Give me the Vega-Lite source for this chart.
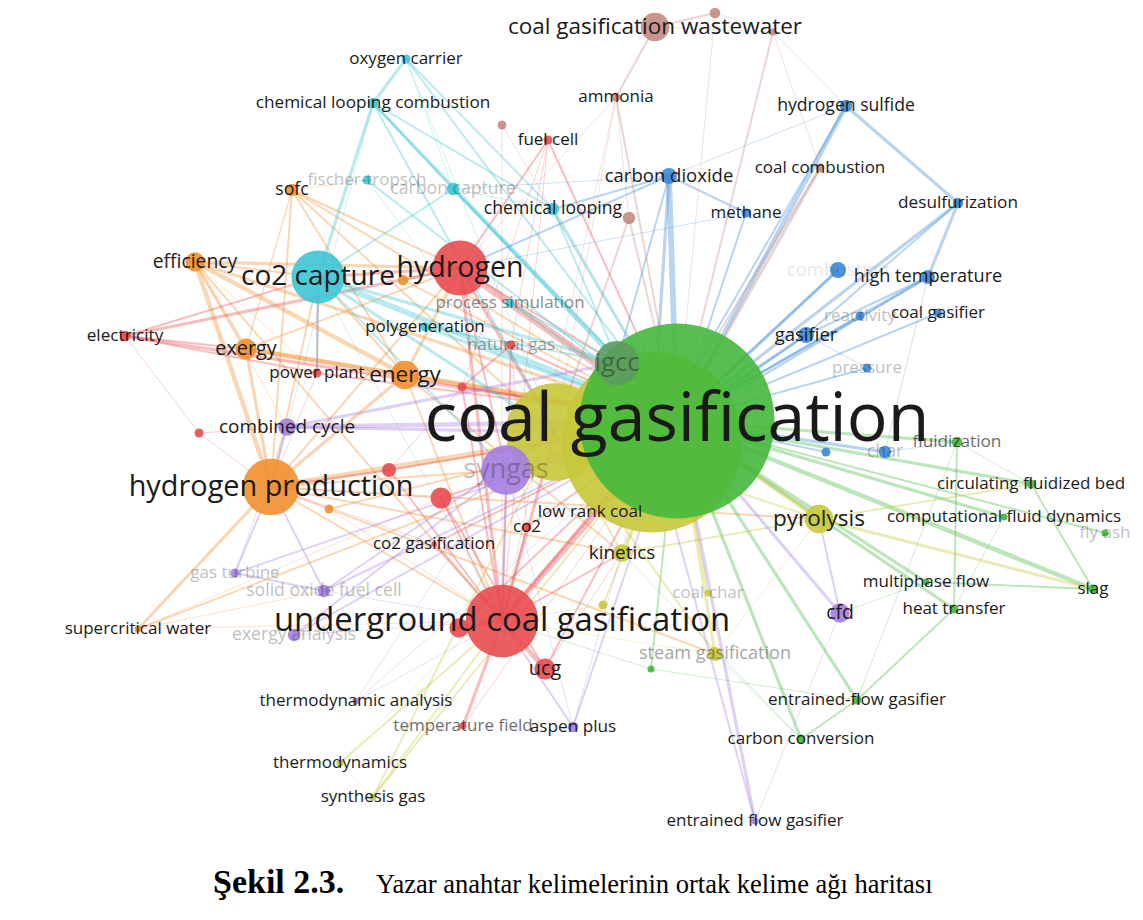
{
"$schema":"https://vega.github.io/schema/vega-lite/v6.json",
"width":1143,"height":920,"autosize":{"type":"fit","contains":"padding"},"padding":0,"background":"white",
"config":{"view":{"stroke":null}},
"datasets":{
"nodes":[
{"id":"y2","label":"","x":652,"y":442,"occ":1040,"cluster":"yellow","vis":"full"},
{"id":"y1","label":"","x":555,"y":432,"occ":302,"cluster":"yellow","vis":"full"},
{"id":"cg","label":"coal gasification","x":677,"y":421,"occ":1210,"cluster":"green","vis":"full"},
{"id":"igcc","label":"igcc","x":617,"y":363,"occ":62,"cluster":"igcc","vis":"dim2"},
{"id":"syngas","label":"syngas","x":506,"y":470,"occ":78,"cluster":"purple","vis":"dim"},
{"id":"hyd","label":"hydrogen","x":460,"y":268,"occ":96,"cluster":"red","vis":"full"},
{"id":"co2cap","label":"co2 capture","x":318,"y":277,"occ":90,"cluster":"cyan","vis":"full"},
{"id":"hprod","label":"hydrogen production","x":271,"y":487,"occ":102,"cluster":"orange","vis":"full"},
{"id":"r5","label":"","x":459,"y":628,"occ":12,"cluster":"red","vis":"full"},
{"id":"ucgf","label":"underground coal gasification","x":502,"y":621,"occ":168,"cluster":"red","vis":"full"},
{"id":"ucg","label":"ucg","x":545,"y":669,"occ":14,"cluster":"red","vis":"full"},
{"id":"pyro","label":"pyrolysis","x":819,"y":519,"occ":26,"cluster":"yellow","vis":"full"},
{"id":"kin","label":"kinetics","x":622,"y":553,"occ":10,"cluster":"yellow","vis":"full"},
{"id":"energy","label":"energy","x":405,"y":375,"occ":26,"cluster":"orange","vis":"full"},
{"id":"exergy","label":"exergy","x":246,"y":349,"occ":14,"cluster":"orange","vis":"full"},
{"id":"eff","label":"efficiency","x":195,"y":262,"occ":12,"cluster":"orange","vis":"full"},
{"id":"elec","label":"electricity","x":125,"y":336,"occ":3.6,"cluster":"red","vis":"full"},
{"id":"sofc","label":"sofc","x":292,"y":190,"occ":4.9,"cluster":"orange","vis":"full"},
{"id":"ccyc","label":"combined cycle","x":287,"y":427,"occ":10,"cluster":"purple","vis":"full"},
{"id":"cfd","label":"cfd","x":840,"y":613,"occ":12,"cluster":"purple","vis":"full"},
{"id":"aspen","label":"aspen plus","x":573,"y":727,"occ":3.6,"cluster":"purple","vis":"full"},
{"id":"ww","label":"coal gasification wastewater","x":655,"y":27,"occ":26,"cluster":"brown","vis":"full"},
{"id":"b1","label":"","x":715,"y":13,"occ":3.6,"cluster":"brown","vis":"full"},
{"id":"b2","label":"","x":773,"y":32,"occ":1.6,"cluster":"brown","vis":"full"},
{"id":"amm","label":"ammonia","x":616,"y":97,"occ":2.5,"cluster":"brown","vis":"full"},
{"id":"b3","label":"","x":502,"y":125,"occ":2.5,"cluster":"brown","vis":"full"},
{"id":"fuel","label":"fuel cell","x":548,"y":140,"occ":2.5,"cluster":"red","vis":"full"},
{"id":"oxy","label":"oxygen carrier","x":406,"y":59,"occ":2.5,"cluster":"cyan","vis":"full"},
{"id":"clc","label":"chemical looping combustion","x":373,"y":103,"occ":3.6,"cluster":"cyan","vis":"full"},
{"id":"ft","label":"fischer-tropsch","x":367,"y":180,"occ":2.5,"cluster":"cyan","vis":"dim"},
{"id":"ccap","label":"carbon capture","x":453,"y":189,"occ":4.9,"cluster":"cyan","vis":"dim"},
{"id":"cl","label":"chemical looping","x":553,"y":209,"occ":4.9,"cluster":"cyan","vis":"full"},
{"id":"b4","label":"","x":629,"y":218,"occ":4.9,"cluster":"brown","vis":"full"},
{"id":"cdiox","label":"carbon dioxide","x":669,"y":176,"occ":8.1,"cluster":"blue","vis":"full"},
{"id":"meth","label":"methane","x":746,"y":213,"occ":2.5,"cluster":"blue","vis":"full"},
{"id":"ccomb","label":"coal combustion","x":820,"y":168,"occ":2.5,"cluster":"brown","vis":"full"},
{"id":"h2s","label":"hydrogen sulfide","x":846,"y":106,"occ":4.9,"cluster":"blue","vis":"full"},
{"id":"desulf","label":"desulfurization","x":958,"y":203,"occ":3.6,"cluster":"blue","vis":"full"},
{"id":"o1","label":"","x":403,"y":280,"occ":3.6,"cluster":"orange","vis":"full"},
{"id":"procsim","label":"process simulation","x":510,"y":303,"occ":2.5,"cluster":"cyan","vis":"dim3"},
{"id":"poly","label":"polygeneration","x":425,"y":327,"occ":2.5,"cluster":"cyan","vis":"full"},
{"id":"natgas","label":"natural gas","x":511,"y":345,"occ":2.5,"cluster":"red","vis":"dim2"},
{"id":"pplant","label":"power plant","x":317,"y":373,"occ":2.5,"cluster":"red","vis":"full"},
{"id":"r1","label":"","x":462,"y":387,"occ":2.5,"cluster":"red","vis":"full"},
{"id":"r2","label":"","x":199,"y":433,"occ":2.5,"cluster":"red","vis":"full"},
{"id":"r3","label":"","x":389,"y":470,"occ":6.4,"cluster":"red","vis":"full"},
{"id":"r4","label":"","x":441,"y":498,"occ":14,"cluster":"red","vis":"full"},
{"id":"o2","label":"","x":329,"y":509,"occ":2.5,"cluster":"orange","vis":"full"},
{"id":"co2","label":"co2","x":527,"y":527,"occ":2.5,"cluster":"red","vis":"full"},
{"id":"lrc","label":"low rank coal","x":590,"y":512,"occ":0.9,"cluster":"yellow","vis":"full"},
{"id":"co2g","label":"co2 gasification","x":434,"y":544,"occ":0.9,"cluster":"red","vis":"full"},
{"id":"ycc","label":"coal char","x":708,"y":593,"occ":1.6,"cluster":"yellow","vis":"dim"},
{"id":"y3","label":"","x":603,"y":605,"occ":2.5,"cluster":"yellow","vis":"full"},
{"id":"steam","label":"steam gasification","x":715,"y":654,"occ":6.4,"cluster":"yellow","vis":"dim2"},
{"id":"g1","label":"","x":651,"y":669,"occ":1.6,"cluster":"green","vis":"full"},
{"id":"multi","label":"multiphase flow","x":926,"y":582,"occ":1.6,"cluster":"green","vis":"full"},
{"id":"heat","label":"heat transfer","x":954,"y":609,"occ":2.5,"cluster":"green","vis":"full"},
{"id":"slag","label":"slag","x":1093,"y":589,"occ":2.5,"cluster":"green","vis":"full"},
{"id":"fly","label":"fly ash","x":1105,"y":533,"occ":1.6,"cluster":"green","vis":"dim"},
{"id":"cfdyn","label":"computational fluid dynamics","x":1004,"y":517,"occ":1.6,"cluster":"green","vis":"full"},
{"id":"cfb","label":"circulating fluidized bed","x":1031,"y":484,"occ":2.5,"cluster":"green","vis":"full"},
{"id":"fluid","label":"fluidization","x":957,"y":442,"occ":3.6,"cluster":"green","vis":"mid"},
{"id":"char","label":"char","x":885,"y":452,"occ":4.9,"cluster":"blue","vis":"dim"},
{"id":"bb1","label":"","x":826,"y":452,"occ":2.5,"cluster":"blue","vis":"full"},
{"id":"press","label":"pressure","x":867,"y":368,"occ":2.5,"cluster":"blue","vis":"dim"},
{"id":"gasifier","label":"gasifier","x":806,"y":335,"occ":8.1,"cluster":"blue","vis":"full"},
{"id":"react","label":"reactivity","x":860,"y":316,"occ":2.5,"cluster":"blue","vis":"dim"},
{"id":"cgasifier","label":"coal gasifier","x":938,"y":313,"occ":2.5,"cluster":"blue","vis":"full"},
{"id":"hightemp","label":"high temperature","x":928,"y":277,"occ":6.4,"cluster":"blue","vis":"full"},
{"id":"bb2","label":"combustion","x":838,"y":270,"occ":8.1,"cluster":"blue","vis":"faint"},
{"id":"efg","label":"entrained-flow gasifier","x":857,"y":700,"occ":2.5,"cluster":"green","vis":"full"},
{"id":"cconv","label":"carbon conversion","x":801,"y":739,"occ":2.5,"cluster":"green","vis":"full"},
{"id":"efg2","label":"entrained flow gasifier","x":755,"y":821,"occ":1.6,"cluster":"purple","vis":"full"},
{"id":"tfield","label":"temperature field","x":463,"y":726,"occ":1.6,"cluster":"red","vis":"mid"},
{"id":"tdana","label":"thermodynamic analysis","x":356,"y":701,"occ":1.6,"cluster":"purple","vis":"full"},
{"id":"tdyn","label":"thermodynamics","x":340,"y":763,"occ":1.6,"cluster":"yellow","vis":"full"},
{"id":"synth","label":"synthesis gas","x":373,"y":797,"occ":1.6,"cluster":"yellow","vis":"full"},
{"id":"scw","label":"supercritical water","x":138,"y":629,"occ":1.6,"cluster":"orange","vis":"full"},
{"id":"gturb","label":"gas turbine","x":235,"y":573,"occ":2.5,"cluster":"purple","vis":"dim"},
{"id":"sofc2","label":"solid oxide fuel cell","x":324,"y":591,"occ":4.9,"cluster":"purple","vis":"dim"},
{"id":"exana","label":"exergy analysis","x":294,"y":635,"occ":4.9,"cluster":"purple","vis":"dim"}
],
"links":[
{"s":"eff","t":"hprod","w":4},{"s":"eff","t":"energy","w":4},{"s":"eff","t":"cg","w":3},{"s":"eff","t":"exergy","w":3},{"s":"eff","t":"co2cap","w":2},{"s":"eff","t":"hyd","w":3},{"s":"eff","t":"ucgf","w":2},{"s":"eff","t":"ccyc","w":1},{"s":"eff","t":"pplant","w":1},
{"s":"exergy","t":"hprod","w":3},{"s":"exergy","t":"energy","w":4},{"s":"exergy","t":"cg","w":4},{"s":"exergy","t":"hyd","w":2},{"s":"exergy","t":"sofc","w":1},
{"s":"energy","t":"cg","w":5},{"s":"energy","t":"hprod","w":3},{"s":"energy","t":"hyd","w":3},{"s":"energy","t":"co2cap","w":2},{"s":"energy","t":"ucgf","w":2},{"s":"energy","t":"kin","w":2},
{"s":"hprod","t":"cg","w":5},{"s":"hprod","t":"co2cap","w":2},{"s":"hprod","t":"scw","w":3},{"s":"hprod","t":"syngas","w":2},{"s":"hprod","t":"hyd","w":2},{"s":"hprod","t":"ucgf","w":2},{"s":"hprod","t":"kin","w":2},{"s":"hprod","t":"steam","w":2},{"s":"hprod","t":"pyro","w":2},
{"s":"scw","t":"cg","w":2},{"s":"scw","t":"ucgf","w":1},{"s":"scw","t":"r4","w":1},{"s":"scw","t":"sofc2","w":1},
{"s":"sofc","t":"hprod","w":2},{"s":"sofc","t":"energy","w":2},{"s":"sofc","t":"cg","w":2},{"s":"sofc","t":"hyd","w":2},{"s":"sofc","t":"exergy","w":1},{"s":"sofc","t":"ft","w":1},{"s":"sofc","t":"y1","w":2},
{"s":"o1","t":"cg","w":2},{"s":"o1","t":"hyd","w":2},{"s":"o2","t":"cg","w":2},{"s":"o2","t":"ucgf","w":1},
{"s":"hyd","t":"cg","w":6},{"s":"hyd","t":"ucgf","w":3},{"s":"hyd","t":"co2cap","w":3},{"s":"hyd","t":"elec","w":3},{"s":"hyd","t":"syngas","w":2},{"s":"hyd","t":"y1","w":3},{"s":"hyd","t":"fuel","w":2},{"s":"hyd","t":"igcc","w":2},
{"s":"elec","t":"cg","w":3},{"s":"elec","t":"pplant","w":2},{"s":"elec","t":"exergy","w":2},{"s":"elec","t":"r2","w":1},{"s":"elec","t":"co2cap","w":2},
{"s":"fuel","t":"cg","w":2},{"s":"fuel","t":"ucgf","w":1},{"s":"fuel","t":"r1","w":1},{"s":"fuel","t":"natgas","w":1},
{"s":"ucgf","t":"cg","w":5},{"s":"ucgf","t":"ucg","w":4},{"s":"ucgf","t":"tfield","w":3},{"s":"ucgf","t":"co2","w":2},{"s":"ucgf","t":"r4","w":2},{"s":"ucgf","t":"r3","w":2},{"s":"ucgf","t":"r5","w":3},{"s":"ucgf","t":"y1","w":3},{"s":"ucgf","t":"kin","w":2},{"s":"ucgf","t":"natgas","w":2},{"s":"ucgf","t":"r1","w":2},{"s":"ucgf","t":"co2g","w":2},{"s":"ucgf","t":"y2","w":3},
{"s":"ucg","t":"cg","w":2},{"s":"ucg","t":"kin","w":1},{"s":"ucg","t":"r4","w":2},
{"s":"pplant","t":"cg","w":2},{"s":"pplant","t":"co2cap","w":2},{"s":"pplant","t":"hprod","w":1},
{"s":"natgas","t":"cg","w":2},{"s":"natgas","t":"r1","w":2},{"s":"natgas","t":"co2","w":1},
{"s":"r1","t":"cg","w":2},{"s":"r1","t":"r3","w":1},{"s":"r2","t":"hprod","w":1},{"s":"r2","t":"ccyc","w":1},
{"s":"r3","t":"cg","w":2},{"s":"r3","t":"hprod","w":2},{"s":"r4","t":"cg","w":2},{"s":"r4","t":"hprod","w":1},{"s":"co2","t":"cg","w":2},{"s":"co2g","t":"cg","w":2},{"s":"r5","t":"cg","w":2},{"s":"tfield","t":"cg","w":1},{"s":"co2g","t":"hprod","w":1},
{"s":"co2cap","t":"cg","w":5},{"s":"co2cap","t":"igcc","w":3},{"s":"co2cap","t":"y1","w":3},{"s":"co2cap","t":"syngas","w":2},{"s":"co2cap","t":"ccap","w":2},{"s":"co2cap","t":"clc","w":3},{"s":"co2cap","t":"pplant","w":2},{"s":"co2cap","t":"ucgf","w":1},
{"s":"clc","t":"oxy","w":3},{"s":"clc","t":"cg","w":3},{"s":"clc","t":"ccap","w":2},{"s":"clc","t":"cl","w":2},{"s":"clc","t":"y1","w":2},{"s":"clc","t":"hprod","w":1},{"s":"clc","t":"igcc","w":1},
{"s":"oxy","t":"cg","w":2},{"s":"oxy","t":"cl","w":2},{"s":"oxy","t":"ccap","w":1},{"s":"oxy","t":"y1","w":1},
{"s":"ccap","t":"cg","w":3},{"s":"ccap","t":"igcc","w":2},{"s":"ccap","t":"cl","w":1},
{"s":"cl","t":"cg","w":3},{"s":"cl","t":"y2","w":2},{"s":"ft","t":"cg","w":2},{"s":"ft","t":"y1","w":1},
{"s":"poly","t":"cg","w":3},{"s":"poly","t":"igcc","w":2},{"s":"procsim","t":"cg","w":2},{"s":"procsim","t":"igcc","w":2},
{"s":"cdiox","t":"cg","w":5},{"s":"cdiox","t":"y2","w":3},{"s":"cdiox","t":"hyd","w":2},{"s":"cdiox","t":"meth","w":2},{"s":"cdiox","t":"cl","w":2},{"s":"cdiox","t":"igcc","w":2},{"s":"cdiox","t":"ccap","w":1},
{"s":"meth","t":"cg","w":2},{"s":"meth","t":"hyd","w":1},
{"s":"h2s","t":"cg","w":4},{"s":"h2s","t":"desulf","w":3},{"s":"h2s","t":"b2","w":1},{"s":"h2s","t":"y2","w":2},{"s":"h2s","t":"cdiox","w":1},
{"s":"desulf","t":"cg","w":3},{"s":"desulf","t":"hightemp","w":3},{"s":"desulf","t":"gasifier","w":2},
{"s":"hightemp","t":"cg","w":3},{"s":"hightemp","t":"gasifier","w":2},{"s":"hightemp","t":"y2","w":2},{"s":"hightemp","t":"char","w":1},
{"s":"bb2","t":"cg","w":3},{"s":"bb2","t":"y2","w":2},
{"s":"cgasifier","t":"cg","w":2},{"s":"react","t":"cg","w":2},{"s":"gasifier","t":"cg","w":3},{"s":"gasifier","t":"y2","w":2},{"s":"press","t":"cg","w":2},{"s":"press","t":"gasifier","w":1},{"s":"char","t":"cg","w":3},{"s":"char","t":"fluid","w":1},{"s":"bb1","t":"cg","w":2},
{"s":"ww","t":"amm","w":2},{"s":"ww","t":"b1","w":2},{"s":"b1","t":"b2","w":1},{"s":"ww","t":"b2","w":1},{"s":"b2","t":"cg","w":2},{"s":"b2","t":"ccomb","w":1},{"s":"amm","t":"cg","w":2},{"s":"amm","t":"y1","w":1},{"s":"amm","t":"hyd","w":1},{"s":"amm","t":"ucgf","w":1},{"s":"amm","t":"b4","w":1},{"s":"b1","t":"cg","w":1},{"s":"ccomb","t":"cg","w":3},{"s":"ccomb","t":"y2","w":2},{"s":"b4","t":"cg","w":2},{"s":"b3","t":"cg","w":1},{"s":"b3","t":"ucgf","w":1},{"s":"b4","t":"y1","w":2},
{"s":"cg","t":"fluid","w":3},{"s":"cg","t":"cfb","w":3},{"s":"cg","t":"cfdyn","w":3},{"s":"cg","t":"slag","w":4},{"s":"cg","t":"fly","w":2},{"s":"cg","t":"multi","w":3},{"s":"cg","t":"heat","w":3},{"s":"cg","t":"efg","w":3},{"s":"cg","t":"cconv","w":3},{"s":"cg","t":"g1","w":2},
{"s":"cfb","t":"slag","w":2},{"s":"cfb","t":"fluid","w":1},{"s":"multi","t":"slag","w":2},{"s":"heat","t":"efg","w":2},{"s":"fluid","t":"heat","w":2},{"s":"fluid","t":"efg","w":1},{"s":"cconv","t":"steam","w":1},{"s":"cconv","t":"efg","w":2},{"s":"cconv","t":"kin","w":1},{"s":"multi","t":"cfd","w":1},{"s":"cfdyn","t":"heat","w":1},{"s":"g1","t":"ucgf","w":1},{"s":"g1","t":"efg","w":1},
{"s":"pyro","t":"cg","w":4},{"s":"pyro","t":"kin","w":2},{"s":"pyro","t":"slag","w":3},{"s":"pyro","t":"y1","w":2},{"s":"pyro","t":"hyd","w":1},{"s":"pyro","t":"cfb","w":2},{"s":"pyro","t":"steam","w":1},
{"s":"kin","t":"cg","w":3},{"s":"kin","t":"y1","w":2},
{"s":"steam","t":"cg","w":3},{"s":"steam","t":"y1","w":2},{"s":"steam","t":"ucgf","w":1},
{"s":"synth","t":"ucgf","w":2},{"s":"synth","t":"cg","w":2},{"s":"synth","t":"y1","w":2},{"s":"synth","t":"tdyn","w":1},
{"s":"tdyn","t":"cg","w":1},{"s":"tdyn","t":"ucgf","w":2},
{"s":"ycc","t":"cg","w":2},{"s":"y3","t":"cg","w":2},{"s":"y3","t":"ucgf","w":1},{"s":"lrc","t":"cg","w":1},
{"s":"syngas","t":"cg","w":4},{"s":"syngas","t":"y1","w":3},{"s":"syngas","t":"ucgf","w":2},
{"s":"ccyc","t":"cg","w":4},{"s":"ccyc","t":"hprod","w":2},{"s":"ccyc","t":"igcc","w":3},{"s":"ccyc","t":"y1","w":3},
{"s":"cfd","t":"cg","w":3},{"s":"cfd","t":"pyro","w":2},{"s":"cfd","t":"efg2","w":1},
{"s":"aspen","t":"cg","w":2},{"s":"aspen","t":"ucgf","w":2},{"s":"aspen","t":"y2","w":1},{"s":"aspen","t":"syngas","w":1},
{"s":"efg2","t":"cg","w":3},{"s":"efg2","t":"y2","w":2},
{"s":"gturb","t":"hprod","w":2},{"s":"gturb","t":"cg","w":2},{"s":"gturb","t":"ccyc","w":1},{"s":"gturb","t":"sofc2","w":2},
{"s":"sofc2","t":"cg","w":2},{"s":"sofc2","t":"hprod","w":2},{"s":"sofc2","t":"y1","w":2},{"s":"sofc2","t":"ucgf","w":1},
{"s":"exana","t":"cg","w":2},{"s":"exana","t":"ucgf","w":1},{"s":"exana","t":"syngas","w":2},
{"s":"tdana","t":"cg","w":1},{"s":"tdana","t":"ucgf","w":1},{"s":"tdana","t":"syngas","w":1},
{"s":"igcc","t":"cg","w":4},{"s":"igcc","t":"y1","w":3}
],
"caption":[{"bold":"Şekil 2.3.","rest":"Yazar anahtar kelimelerinin ortak kelime ağı haritası","x1":213,"x2":376,"y":893}]
},
"resolve":{"scale":{"size":"independent","opacity":"independent"}},
"layer":[
{"data":{"name":"links"},
 "transform":[
  {"lookup":"s","from":{"data":{"name":"nodes"},"key":"id","fields":["x","y","cluster"]},"as":["sx","sy","cluster"]},
  {"lookup":"t","from":{"data":{"name":"nodes"},"key":"id","fields":["x","y"]},"as":["tx","ty"]}
 ],
 "mark":{"type":"rule","opacity":0.36,"strokeCap":"round"},
 "encoding":{
  "x":{"field":"sx","type":"quantitative","scale":{"domain":[0,1143],"nice":false,"zero":false},"axis":null},
  "y":{"field":"sy","type":"quantitative","scale":{"domain":[0,920],"nice":false,"zero":false,"reverse":true},"axis":null},
  "x2":{"field":"tx"},"y2":{"field":"ty"},
  "color":{"field":"cluster","type":"nominal","legend":null,"scale":{"domain":["red","green","blue","yellow","purple","cyan","orange","brown","igcc"],"range":["#e84b50","#45b83c","#3a88d8","#c8c83a","#a57ee0","#3ec5d5","#f29030","#c28b80","#5b9c5e"]}},
  "strokeWidth":{"field":"w","type":"quantitative","legend":null,"scale":{"domain":[1,6],"range":[0.7,7]}}
 }},
{"data":{"name":"nodes"},
 "mark":{"type":"circle","opacity":0.9},
 "encoding":{
  "x":{"field":"x","type":"quantitative"},
  "y":{"field":"y","type":"quantitative"},
  "size":{"field":"occ","type":"quantitative","legend":null,"scale":{"domain":[0,1000],"range":[0,31416]}},
  "color":{"field":"cluster","type":"nominal","legend":null}
 }},
{"data":{"name":"nodes"},
 "transform":[{"filter":"datum.label != ''"}],
 "mark":{"type":"text","font":"Open Sans","color":"#1a1a1a","align":"center","baseline":"middle"},
 "encoding":{
  "x":{"field":"x","type":"quantitative"},
  "y":{"field":"y","type":"quantitative"},
  "text":{"field":"label"},
  "size":{"field":"occ","type":"quantitative","legend":null,"scale":{"domain":[0,3,7,14,26,96,170,1210],"range":[17,17,18.3,19.8,22.5,28.5,33,68]}},
  "opacity":{"field":"vis","type":"nominal","legend":null,"scale":{"type":"ordinal","domain":["full","mid","dim3","dim2","dim","faint"],"range":[1,0.65,0.5,0.4,0.28,0.1]}}
 }},
{"data":{"name":"caption"},
 "mark":{"type":"text","font":"Liberation Serif","fontWeight":"bold","fontSize":34,"align":"left","baseline":"alphabetic","color":"#000"},
 "encoding":{"x":{"field":"x1","type":"quantitative"},"y":{"field":"y","type":"quantitative"},"text":{"field":"bold"}}},
{"data":{"name":"caption"},
 "mark":{"type":"text","font":"Liberation Serif","fontSize":26.5,"align":"left","baseline":"alphabetic","color":"#000"},
 "encoding":{"x":{"field":"x2","type":"quantitative"},"y":{"field":"y","type":"quantitative"},"text":{"field":"rest"}}}
]
}
